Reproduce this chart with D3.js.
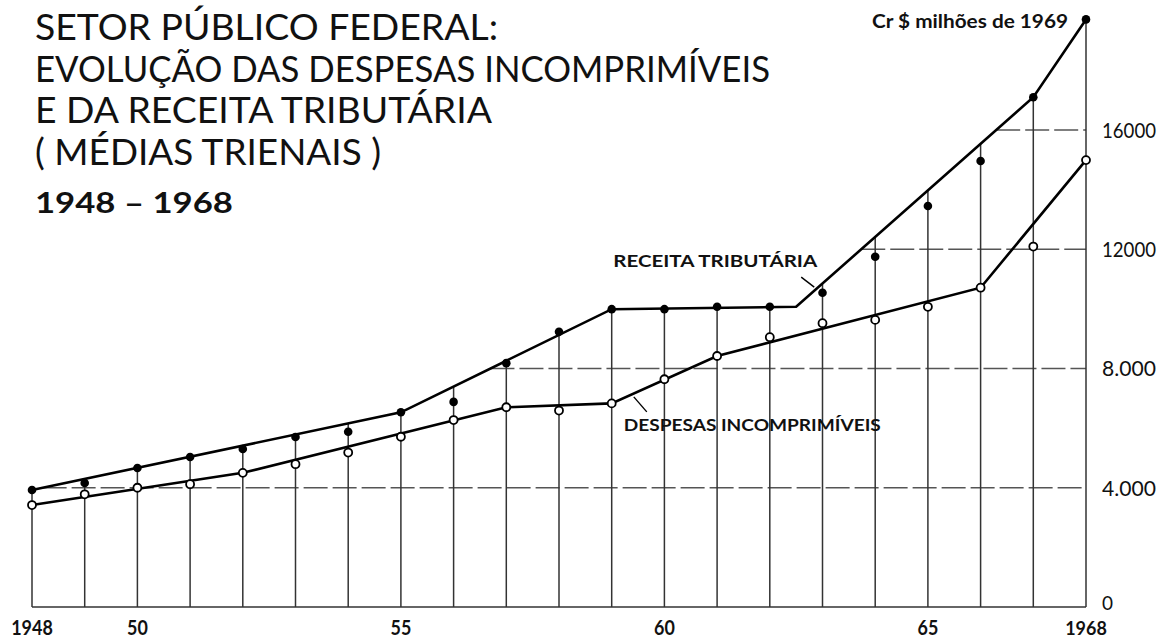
<!DOCTYPE html>
<html>
<head>
<meta charset="utf-8">
<script src="https://cdn.jsdelivr.net/npm/d3@7"></script>
<style>
  body { margin: 0; background: #fff; }
  text { font-family: Lato, "DejaVu Sans", sans-serif; fill: #111; }
</style>
</head>
<body>
<svg id="chart" width="1169" height="640"></svg>
<script>
// valores (Cr$ milhoes de 1969, medias trienais)
var years = [1948, 1949, 1950, 1951, 1952, 1953, 1954, 1955, 1956, 1957, 1958,
             1959, 1960, 1961, 1962, 1963, 1964, 1965, 1966, 1967, 1968];
var receita = [3925, 4160, 4660, 5030, 5300, 5700, 5880, 6530, 6880, 8180, 9230,
               9990, 9990, 10070, 10070, 10540, 11750, 13450, 14960, 17100, 19710];
var despesas = [3420, 3780, 4000, 4120, 4500, 4790, 5180, 5710, 6270, 6700, 6590,
                6830, 7640, 8420, 9050, 9520, 9630, 10070, 10710, 12090, 14990];

// linhas de tendencia (vertices)
var receitaTrendYears = [1948, 1955, 1959, 1962.5, 1967, 1968];
var receitaTrend = [3925, 6530, 9990, 10070, 17100, 19710];
var despesasTrendYears = [1948, 1952, 1957, 1959, 1961, 1966, 1968];
var despesasTrend = [3420, 4500, 6700, 6830, 8420, 10710, 14990];

var yTicks = [0, 4000, 8000, 12000, 16000];
var yTickLabels = ['0', '4.000', '8.000', '12000', '16000'];
var xTicks = [1948, 1950, 1955, 1960, 1965, 1968];
var xTickLabels = ['1948', '50', '55', '60', '65', '1968'];

var titleLines = [
  'SETOR PÚBLICO FEDERAL:',
  'EVOLUÇÃO DAS DESPESAS INCOMPRIMÍVEIS',
  'E DA RECEITA TRIBUTÁRIA',
  '( MÉDIAS TRIENAIS )'
];
var subtitle = '1948 – 1968';
var unitLabel = 'Cr $ milhões de 1969';

var svg = d3.select('#chart');

var x = d3.scaleLinear().domain([1948, 1968]).range([32, 1086]);
var y = d3.scaleLinear().domain([0, 16000]).range([607, 130]);

// receita trend as function of year, and its inverse
var receitaAt = d3.scaleLinear().domain(receitaTrendYears).range(receitaTrend);
var receitaYearOf = d3.scaleLinear().domain(receitaTrend).range(receitaTrendYears);
var despesasAt = d3.scaleLinear().domain(despesasTrendYears).range(despesasTrend);

// horizontal grid (dashed), starting where receita line crosses
svg.append('g')
  .selectAll('line')
  .data(yTicks.filter(function(d) { return d > 0; }))
  .enter()
  .append('line')
  .attr('x1', function(d) { return x(receitaYearOf(d)); })
  .attr('x2', x(1968))
  .attr('y1', function(d) { return y(d); })
  .attr('y2', function(d) { return y(d); })
  .attr('stroke', '#555')
  .attr('stroke-width', 1.3)
  .attr('stroke-dasharray', '24,5');

// vertical lines per year up to the receita line
svg.append('g')
  .selectAll('line')
  .data(years)
  .enter()
  .append('line')
  .attr('x1', function(d) { return x(d); })
  .attr('x2', function(d) { return x(d); })
  .attr('y1', y(0))
  .attr('y2', function(d, i) { return y(Math.max(receitaAt(d), receita[i])); })
  .attr('stroke', '#333')
  .attr('stroke-width', 1.5);

// baseline
svg.append('line')
  .attr('x1', x(1948)).attr('x2', x(1968))
  .attr('y1', y(0)).attr('y2', y(0))
  .attr('stroke', '#333')
  .attr('stroke-width', 1.5);

// trend lines
var line = d3.line()
  .x(function(d) { return x(d[0]); })
  .y(function(d) { return y(d[1]); });

svg.append('path')
  .datum(d3.zip(receitaTrendYears, receitaTrend))
  .attr('d', line)
  .attr('fill', 'none')
  .attr('stroke', '#000')
  .attr('stroke-width', 2.6);

svg.append('path')
  .datum(d3.zip(despesasTrendYears, despesasTrend))
  .attr('d', line)
  .attr('fill', 'none')
  .attr('stroke', '#000')
  .attr('stroke-width', 2.6);

// points
svg.append('g')
  .selectAll('circle')
  .data(d3.zip(years, receita))
  .enter()
  .append('circle')
  .attr('cx', function(d) { return x(d[0]); })
  .attr('cy', function(d) { return y(d[1]); })
  .attr('r', 4.3)
  .attr('fill', '#000');

svg.append('g')
  .selectAll('circle')
  .data(d3.zip(years, despesas))
  .enter()
  .append('circle')
  .attr('cx', function(d) { return x(d[0]); })
  .attr('cy', function(d) { return y(d[1]); })
  .attr('r', 4)
  .attr('fill', '#fff')
  .attr('stroke', '#000')
  .attr('stroke-width', 1.8);

// y labels (right)
svg.append('g')
  .selectAll('text')
  .data(yTicks)
  .enter()
  .append('text')
  .attr('x', x(1968) + 16)
  .attr('y', function(d) { return d === 0 ? y(d) + 3 : y(d); })
  .attr('dy', function(d) { return d === 0 ? '0em' : '0.36em'; })
  .attr('font-size', function(d) { return d === 0 ? 19 : 22; })
  .attr('textLength', function(d, i) { return yTickLabels[i].length > 1 ? yTickLabels[i].length * 10.8 : null; })
  .attr('lengthAdjust', 'spacingAndGlyphs')
  .text(function(d, i) { return yTickLabels[i]; });

// x labels
svg.append('g')
  .selectAll('text')
  .data(xTicks)
  .enter()
  .append('text')
  .attr('x', function(d) { return x(d); })
  .attr('y', 635)
  .attr('text-anchor', 'middle')
  .attr('font-size', function(d) { return d === 1968 ? 18 : 21; })
  .attr('font-weight', 'bold')
  .attr('textLength', function(d, i) { return xTickLabels[i].length * 10.4; })
  .attr('lengthAdjust', 'spacingAndGlyphs')
  .text(function(d, i) { return xTickLabels[i]; });

// unit label
svg.append('text')
  .attr('x', x(1968) - 18)
  .attr('y', 28)
  .attr('text-anchor', 'end')
  .attr('font-size', 19)
  .attr('font-weight', 'bold')
  .attr('textLength', 196)
  .attr('lengthAdjust', 'spacingAndGlyphs')
  .text(unitLabel);

// series labels with leader lines
var recYear = 1962.9;
var rx = x(recYear), ry = y(receitaAt(recYear));
svg.append('line')
  .attr('x1', rx - 16).attr('y1', ry - 11)
  .attr('x2', rx - 3).attr('y2', ry - 1)
  .attr('stroke', '#000').attr('stroke-width', 1.4);
svg.append('text')
  .attr('x', rx)
  .attr('y', ry - 21)
  .attr('text-anchor', 'end')
  .attr('font-size', 17)
  .attr('font-weight', 'bold')
  .attr('textLength', 204)
  .attr('lengthAdjust', 'spacingAndGlyphs')
  .text('RECEITA TRIBUTÁRIA');

var desYear = 1959.4;
var dx = x(desYear), dy = y(despesasAt(desYear));
svg.append('line')
  .attr('x1', dx + 1).attr('y1', dy + 3)
  .attr('x2', dx + 14).attr('y2', dy + 18)
  .attr('stroke', '#000').attr('stroke-width', 1.4);
svg.append('text')
  .attr('x', dx - 9)
  .attr('y', dy + 37)
  .attr('font-size', 17)
  .attr('font-weight', 'bold')
  .attr('textLength', 257)
  .attr('lengthAdjust', 'spacingAndGlyphs')
  .text('DESPESAS INCOMPRIMÍVEIS');

// title
var titleWidths = [463, 735, 457, 346];
svg.append('g')
  .selectAll('text')
  .data(titleLines)
  .enter()
  .append('text')
  .attr('x', 35)
  .attr('y', function(d, i) { return 40 + i * 41.5; })
  .attr('font-size', 37)
  .attr('textLength', function(d, i) { return titleWidths[i]; })
  .attr('lengthAdjust', 'spacingAndGlyphs')
  .text(function(d) { return d; });

svg.append('text')
  .attr('x', 35)
  .attr('y', 213)
  .attr('font-size', 29)
  .attr('font-weight', 'bold')
  .attr('textLength', 198)
  .attr('lengthAdjust', 'spacingAndGlyphs')
  .text(subtitle);
</script>
</body>
</html>
